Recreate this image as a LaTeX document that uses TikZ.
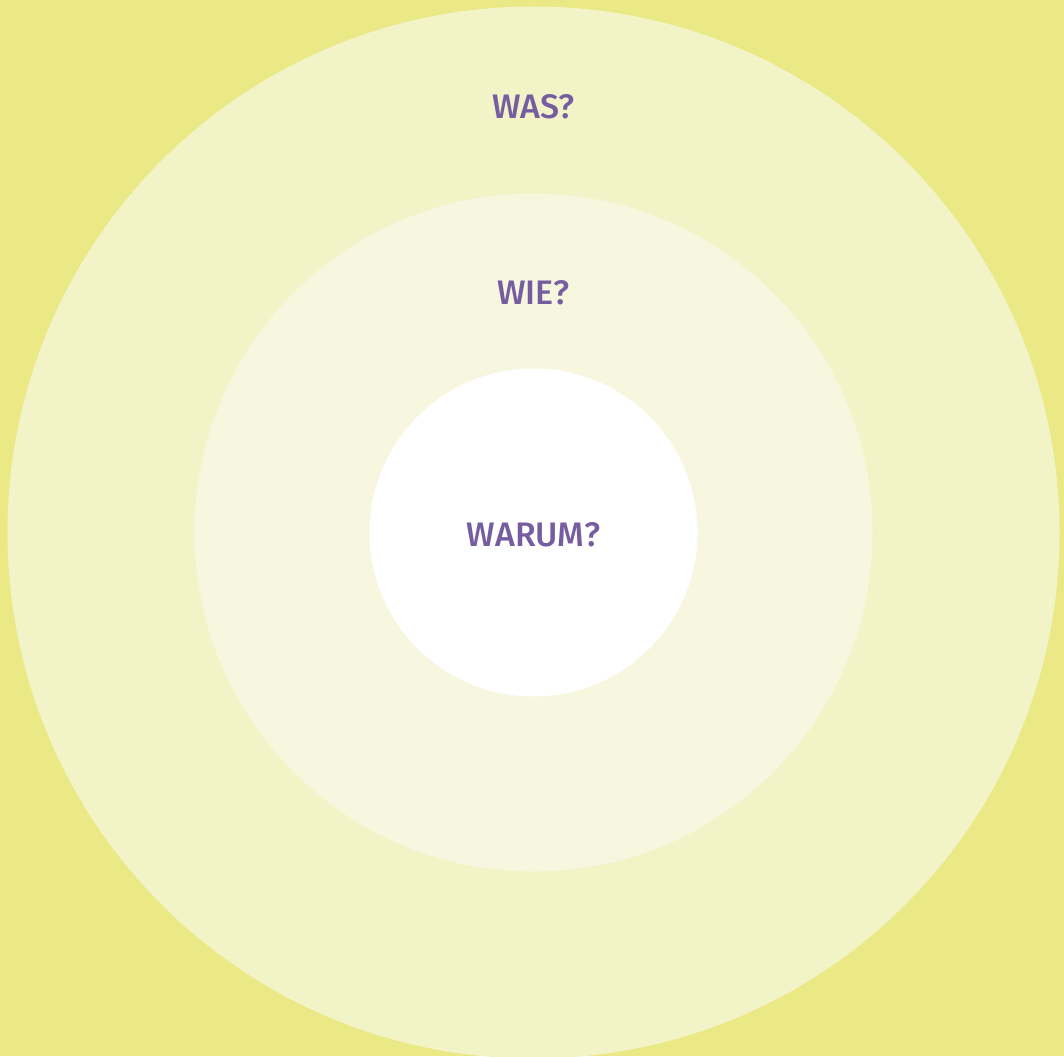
\documentclass[tikz,border=0pt]{standalone}
\usepackage{fontspec}
\setmainfont{Fira Sans}[UprightFont=* Medium]
\definecolor{bgyellow}{HTML}{EAE985}
\definecolor{ringouter}{HTML}{F3F3C8}
\definecolor{ringmid}{HTML}{F7F7DF}
\definecolor{labelpurple}{HTML}{765DA0}
\tikzset{
  ring/.style={circle, draw=none, inner sep=0pt},
  question/.style={text=labelpurple, font=\fontsize{34}{40}\selectfont, inner sep=0pt, anchor=base}
}
\begin{document}
\begin{tikzpicture}[x=1pt,y=-1pt]
  \fill[bgyellow] (0,0) rectangle (1064,1056);
  \useasboundingbox (0,0) rectangle (1064,1056);
  \begin{scope}
    \clip (0,0) rectangle (1064,1056);
    \node[ring, fill=ringouter, minimum size=1052pt] (outer) at (533.5,532.5) {};
  \end{scope}
  \node[ring, fill=ringmid, minimum size=678pt] (middle) at (533.5,532.5) {};
  \node[ring, fill=white, minimum size=328pt] (inner) at (533.5,532.5) {};
  \node[question] (was) at (533.5,119) {WAS?};
  \node[question] (wie) at (533.5,304) {WIE?};
  \node[question] (warum) at (533.5,546) {WARUM?};
\end{tikzpicture}
\end{document}
